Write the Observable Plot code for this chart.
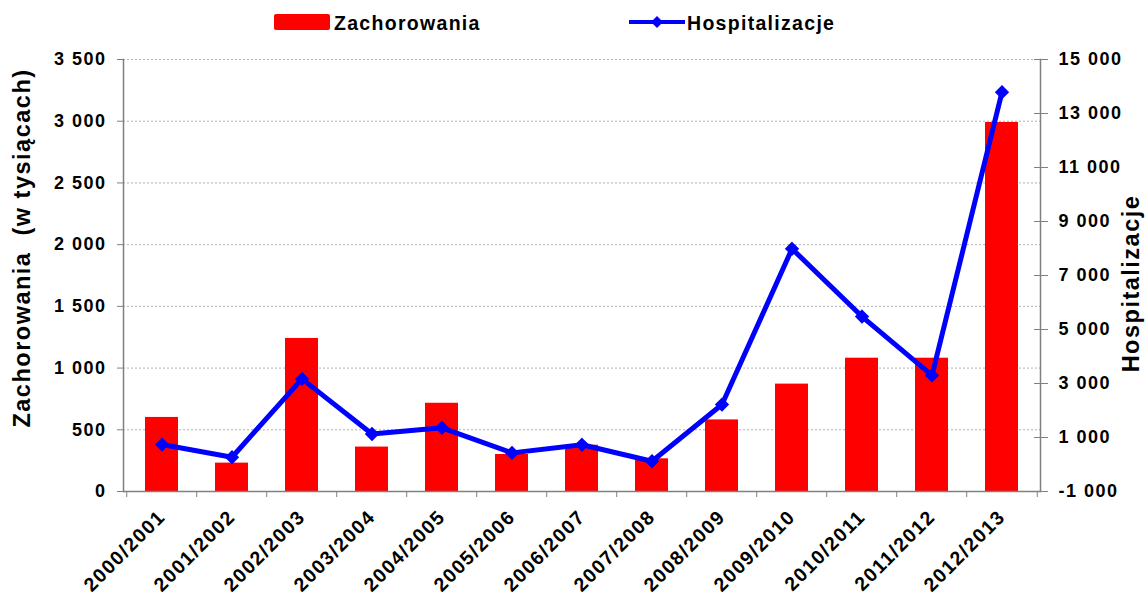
<!DOCTYPE html>
<html><head><meta charset="utf-8">
<script src="https://cdn.jsdelivr.net/npm/d3@7"></script>
<script src="https://cdn.jsdelivr.net/npm/@observablehq/plot@0.6"></script>
<style>
body{margin:0;background:#fff;font-family:"Liberation Sans",Arial,sans-serif;font-weight:bold;}
#legend{position:relative;height:40px;width:1145px;}
#legend .t{position:absolute;font-size:19.5px;line-height:1;letter-spacing:1.3px;color:#000;white-space:nowrap;}
#chart svg{display:block;}
</style></head><body>
<div id="legend">
  <div style="position:absolute;left:274px;top:14px;width:56px;height:16px;background:#ff0000;border-radius:2px"></div>
  <span class="t" style="left:334px;top:13.5px">Zachorowania</span>
  <svg style="position:absolute;left:627px;top:14px" width="60" height="16">
    <line x1="2" y1="8" x2="58" y2="8" stroke="#0000ff" stroke-width="4"/>
    <path d="M30,2 L36,8 L30,14 L24,8 Z" fill="#0000ff"/>
  </svg>
  <span class="t" style="left:687px;top:13.5px">Hospitalizacje</span>
</div>
<div id="chart"></div>
<script>
const seasons = ["2000/2001","2001/2002","2002/2003","2003/2004","2004/2005","2005/2006","2006/2007","2007/2008","2008/2009","2009/2010","2010/2011","2011/2012","2012/2013"];
const zachorowania = [600, 230, 1240, 360, 715, 300, 375, 265, 580, 870, 1080, 1080, 2990];
const hospitalizacje = [740, 270, 3170, 1130, 1360, 430, 730, 120, 2220, 7990, 5480, 3300, 13790];
const leftTicks = [0, 500, 1000, 1500, 2000, 2500, 3000, 3500];
const rightTicks = [-1000, 1000, 3000, 5000, 7000, 9000, 11000, 13000, 15000];

const leftMax = 3500, rightMin = -1000, rightMax = 15000;
const toLeft = v => (v - rightMin) * leftMax / (rightMax - rightMin);
const toRight = v => Math.round(v * (rightMax - rightMin) / leftMax + rightMin);

const loc = d3.formatLocale({decimal: ",", thousands: "\u00a0", grouping: [3], currency: ["", ""], minus: "-"});
const fmt = loc.format(",d");

const rows = seasons.map((s, i) => ({season: s, zach: zachorowania[i], hosp: hospitalizacje[i], hospY: toLeft(hospitalizacje[i])}));

const W = 1145, H = 555, mL = 123, mR = 105, mT = 19, mB = 104;
const step = (W - mL - mR) / seasons.length;
const axisColor = "#808080";

const chart = Plot.plot({
  width: W, height: H,
  marginTop: mT, marginBottom: mB, marginLeft: mL, marginRight: mR,
  style: {fontFamily: "'Liberation Sans', Arial, sans-serif", fontWeight: "bold", fontSize: "18px", letterSpacing: "1.5px", color: "#000", background: "#fff", overflow: "visible"},
  x: {domain: seasons, paddingInner: 0.53, paddingOuter: 0.265, label: null},
  y: {domain: [0, leftMax], label: null},
  marks: [
    Plot.gridY(leftTicks.filter(t => t > 0), {stroke: "#b0b0b0", strokeOpacity: 1, strokeDasharray: "2,2"}),
    Plot.barY(rows, {x: "season", y: "zach", fill: "#ff0000"}),
    Plot.line(rows, {x: "season", y: "hospY", stroke: "#0000ff", strokeWidth: 5}),
    Plot.dot(rows, {x: "season", y: "hospY", symbol: "diamond2", r: 5.5, fill: "#0000ff", stroke: "#0000ff", strokeWidth: 1.5}),
    Plot.ruleY([0], {stroke: axisColor, strokeWidth: 1.5}),
    Plot.frame({anchor: "left", stroke: axisColor, strokeWidth: 1.5}),
    Plot.frame({anchor: "right", stroke: axisColor, strokeWidth: 1.5}),
    Plot.axisY(leftTicks, {anchor: "left", tickSize: 6, tickPadding: 11, tickFormat: fmt, stroke: axisColor, fill: "#000", label: null}),
    Plot.axisY(rightTicks.map(toLeft), {anchor: "right", tickSize: 14, dx: -7, tickFormat: () => "", stroke: axisColor, label: null}),
    Plot.axisY(rightTicks.map(toLeft), {anchor: "right", tickSize: 0, tickPadding: 18, tickFormat: d => fmt(toRight(d)), fill: "#000", label: null}),
    Plot.axisX(seasons, {tickSize: 6, dx: -step / 2, tickFormat: () => "", stroke: axisColor, label: null}),
    Plot.axisX([seasons[seasons.length - 1]], {tickSize: 6, dx: step / 2, tickFormat: () => "", stroke: axisColor, label: null}),
    Plot.axisX(seasons, {tickSize: 0, tickPadding: 22, tickRotate: -45, dx: 0, fontSize: 19.5, letterSpacing: 1.3, fill: "#000", label: null}),
    Plot.text(["Zachorowania\u00a0 (w tysiącach)"], {text: d => d, frameAnchor: "left", textAnchor: "middle", lineAnchor: "middle", rotate: -90, dx: -101, dy: -27.5, fontSize: 23.5, letterSpacing: 0}),
    Plot.text(["Hospitalizacje"], {text: d => d, frameAnchor: "right", textAnchor: "middle", lineAnchor: "middle", rotate: -90, dx: 91, dy: 8, fontSize: 23.5, letterSpacing: 0})
  ]
});
document.getElementById("chart").appendChild(chart);
</script>
</body></html>
